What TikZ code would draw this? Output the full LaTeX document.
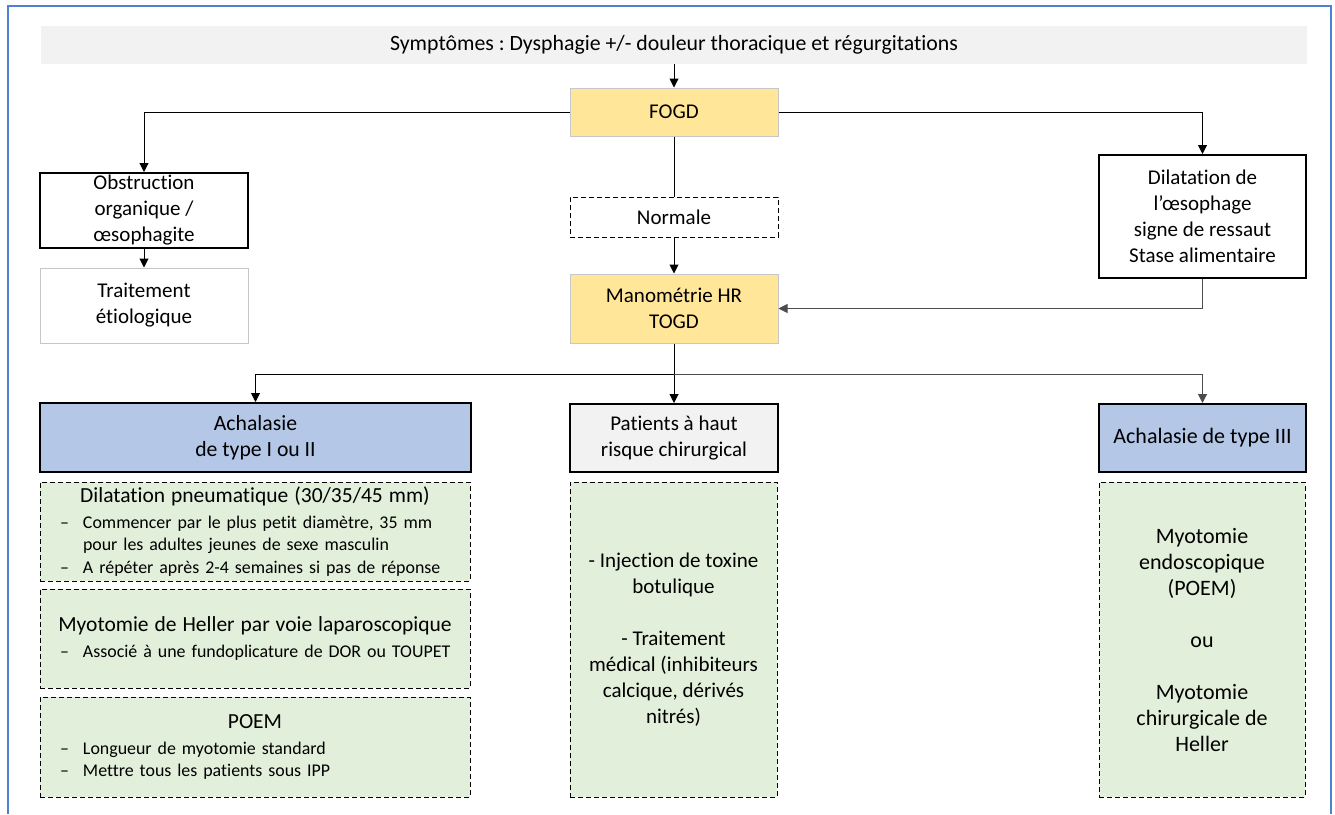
\documentclass[tikz,border=0pt]{standalone}
\usepackage{fontspec}
\setmainfont{Carlito}[Ligatures=NoCommon]
\usepackage{xcolor}
\usepackage{tikz}
\usetikzlibrary{arrows.meta,positioning,calc}
\frenchspacing
\definecolor{acFrame} {RGB}{ 79,129,210}
\definecolor{acGray}  {RGB}{242,242,242}
\definecolor{acYellow}{RGB}{255,230,153}
\definecolor{acBlue}  {RGB}{180,199,231}
\definecolor{acGreen} {RGB}{226,239,218}
\newcommand{\tiret}[1]{\par\noindent\hangindent=33pt\hangafter=1%
  \makebox[33pt][l]{\hspace*{10pt}\textendash}#1\par}
\newcommand{\titre}[1]{{\fontsize{21.5}{25}\selectfont\centering #1\par}\vskip3pt}

\begin{document}
\begin{tikzpicture}[x=1pt,y=1pt,
  every node/.style={font=\fontsize{21}{26}\selectfont,inner sep=0pt,align=center},
  big/.style={font=\fontsize{22}{26}\selectfont},
  plain/.style={draw=black,line width=2pt},
  soft/.style={draw=black!22,line width=1pt},
  dashbox/.style={draw=black,line width=1pt,dash pattern=on 5pt off 3pt},
  treat/.style={dashbox,fill=acGreen},
  bullets/.style={treat,minimum width=430,text width=410,inner xsep=10pt,
    align=left,font=\fontsize{17.9}{22.7}\selectfont},
  arr/.style={line width=1pt,-{Triangle[length=9pt,width=9pt]}},
  link/.style={line width=1pt}
]
\useasboundingbox (0,0) rectangle (1335,-814);
% Outer frame
\draw[acFrame,line width=2pt] (8,-814) -- (8,-6) -- (1331,-6) -- (1331,-814);
% Top
\node (sym) [fill=acGray,minimum width=1266,minimum height=38,
  font=\fontsize{21.8}{26}\selectfont] at (674,-45)
  {Symptômes : Dysphagie +/- douleur thoracique et régurgitations};
\node (fogd) [soft,fill=acYellow,minimum width=208,minimum height=48] at (674,-112) {FOGD};
% Left branch
\node (obs) [plain,minimum width=208,minimum height=75] at (144,-210.5)
  {Obstruction\\organique /\\œsophagite};
\node (trait) [soft,minimum width=208,minimum height=75] at (144,-305.5)
  {Traitement\\étiologique};
% Middle branch
\node (norm) [dashbox,minimum width=208,minimum height=40] at (674,-217) {Normale};
\node (mano) [soft,fill=acYellow,minimum width=208,minimum height=69] at (674,-308.5)
  {Manométrie HR\\TOGD};
% Right branch
\node (dil) [plain,minimum width=207,minimum height=123] at (1202.5,-216.5)
  {Dilatation de\\l’œsophage\\signe de ressaut\\Stase alimentaire};
% Diagnoses
\node (achA) [plain,fill=acBlue,minimum width=431,minimum height=69,
  font=\fontsize{21.7}{26}\selectfont] at (255.5,-437.5)
  {Achalasie\\de type I ou II};
\node (pat) [plain,fill=acGray,minimum width=208,minimum height=68] at (674,-438)
  {Patients à haut\\risque chirurgical};
\node (achB) [plain,fill=acBlue,minimum width=207,minimum height=68,big] at (1202.5,-438)
  {Achalasie de type III};
% Treatments, type I/II
\node (pneu) [bullets,minimum height=99] at (255,-531.5) {%
  \titre{Dilatation pneumatique (30/35/45 mm)}%
  \tiret{Commencer par le plus petit diamètre, 35 mm\newline pour les adultes jeunes de sexe masculin}%
  \tiret{A répéter après 2-4 semaines si pas de réponse}};
\node (hel) [bullets,minimum height=99] at (255,-638.5) {%
  \titre{Myotomie de Heller par voie laparoscopique}%
  \tiret{Associé à une fundoplicature de DOR ou TOUPET}};
\node (poem) [bullets,minimum height=100] at (255,-747) {%
  \titre{POEM}%
  \tiret{Longueur de myotomie standard}%
  \tiret{Mettre tous les patients sous IPP}};
% Treatments, high risk and type III
\node (botu) [treat,minimum width=207,minimum height=315] at (673.5,-639.5)
  {- Injection de toxine\\botulique\\[26pt]- Traitement\\médical (inhibiteurs\\calcique, dérivés\\nitrés)};
\node (endo) [treat,minimum width=206,minimum height=315,big] at (1202,-639.5)
  {Myotomie\\endoscopique\\(POEM)\\[26pt]ou\\[26pt]Myotomie\\chirurgicale de\\Heller};
% Connectors
\draw[arr] (sym) -- (fogd);
\draw[arr] (fogd.west) -| (obs.north);
\draw[arr] (fogd.east) -| (dil.north);
\draw[link] (fogd) -- (norm);
\draw[arr] (norm) -- (mano);
\draw[arr] (obs) -- (trait);
\draw[arr,black!70] (dil.south) |- (mano.east);
\coordinate (split) at ($(mano.south)+(0,-31)$);
\draw[arr] (mano) -- (pat);
\draw[arr] (split) -| (achA.north);
\draw[arr,black!70] (split) -| (achB.north);
\end{tikzpicture}
\end{document}
